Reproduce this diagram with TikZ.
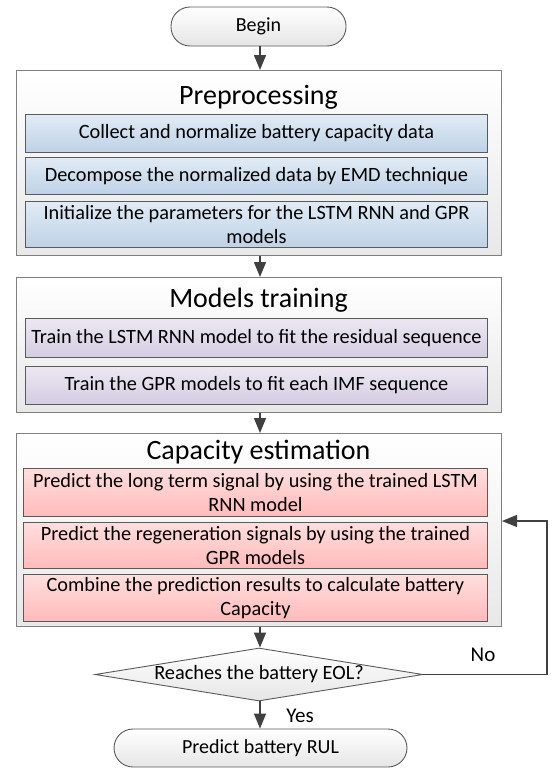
\documentclass[tikz,border=0pt]{standalone}
\usepackage{fontspec}
\setmainfont{Carlito}
\usetikzlibrary{arrows.meta,shapes.geometric}
\definecolor{arr}{HTML}{404040}
\definecolor{outerline}{HTML}{7F7F7F}
\definecolor{innerline}{HTML}{5A5A5A}
\tikzset{
  outerbox/.style={draw=outerline, line width=1pt, top color=white, bottom color=black!9, anchor=north west, inner sep=0pt},
  innerbox/.style={draw=innerline, line width=0.9pt, anchor=north west, inner sep=0pt, align=center, font=\fontsize{20.3}{24.5}\selectfont},
  bluebox/.style={innerbox, top color={rgb,255:red,225;green,235;blue,245}, bottom color={rgb,255:red,190;green,210;blue,230}},
  purplebox/.style={innerbox, top color={rgb,255:red,236;green,232;blue,242}, bottom color={rgb,255:red,212;green,204;blue,226}},
  redbox/.style={innerbox, top color={rgb,255:red,255;green,222;blue,222}, bottom color={rgb,255:red,255;green,186;blue,186}},
  titletext/.style={font=\fontsize{28}{32}\selectfont, inner sep=0pt},
  terminal/.style={draw=innerline, line width=0.9pt, rounded corners=19pt, top color=white, bottom color=black!10, inner sep=0pt, font=\fontsize{20}{24}\selectfont},
  decision/.style={diamond, aspect=6.2, draw=innerline, line width=0.9pt, top color=white, bottom color=black!10, inner sep=0pt, font=\fontsize{20.3}{24}\selectfont},
  flow/.style={draw=arr, line width=1.5pt, -{Triangle[length=15pt,width=12pt]}},
  loopflow/.style={draw=arr, line width=1.1pt, -{Triangle[length=15pt,width=12pt]}},
  lbl/.style={font=\fontsize{21}{24}\selectfont, inner sep=0pt}
}
\begin{document}
\begin{tikzpicture}[x=1pt,y=-1pt]
\useasboundingbox (0,0) rectangle (552,769);
% Begin
\node[terminal, minimum width=175pt, minimum height=39pt] (begin) at (258.5,26.5) {Begin};
% Preprocessing
\node[outerbox, minimum width=485pt, minimum height=185pt] (pre) at (16,70) {};
\node[titletext] (pret) at (258.5,97) {Preprocessing};
\node[bluebox, minimum width=462pt, minimum height=38pt] (p1) at (25,114) {Collect and normalize battery capacity data};
\node[bluebox, minimum width=462pt, minimum height=37pt] (p2) at (25,157) {Decompose the normalized data by EMD technique};
\node[bluebox, minimum width=462pt, minimum height=46pt] (p3) at (25,201) {Initialize the parameters for the LSTM RNN and GPR\\models};
% Models training
\node[outerbox, minimum width=485pt, minimum height=135pt] (mod) at (16,277) {};
\node[titletext] (modt) at (258.5,300) {Models training};
\node[purplebox, minimum width=462pt, minimum height=39pt] (m1) at (25,318) {Train the LSTM RNN model to fit the residual sequence};
\node[purplebox, minimum width=462pt, minimum height=38pt] (m2) at (25,366) {Train the GPR models to fit each IMF sequence};
% Capacity estimation
\node[outerbox, minimum width=485pt, minimum height=193pt] (cap) at (16,433) {};
\node[titletext] (capt) at (258.5,452) {Capacity estimation};
\node[redbox, minimum width=464pt, minimum height=48pt] (c1) at (23,468) {Predict the long term signal by using the trained LSTM\\RNN model};
\node[redbox, minimum width=464pt, minimum height=46pt] (c2) at (23,522) {Predict the regeneration signals by using the trained\\GPR models};
\node[redbox, minimum width=464pt, minimum height=47pt] (c3) at (23,574) {Combine the prediction results to calculate battery\\Capacity};
% Decision
\node[decision, minimum width=328pt, minimum height=53pt] (dec) at (259,674.5) {Reaches the battery EOL?};
% End
\node[terminal, minimum width=293pt, minimum height=38pt] (rul) at (260.5,748) {Predict battery RUL};
% Connectors
\draw[flow] (begin.south -| 260,0) -- (pre.north -| 260,0);
\draw[flow] (pre.south -| 260,0) -- (mod.north -| 260,0);
\draw[flow] (mod.south -| 260,0) -- (cap.north -| 260,0);
\draw[flow] (cap.south -| 260,0) -- (dec.north -| 260,0);
\draw[flow] (dec.south -| 260,0) -- (rul.north -| 260,0);
\coordinate (lp) at (547,521);
\draw[loopflow] (dec.east) -| (lp) -- (cap.east |- lp);
\node[lbl] (no) at (483,655) {No};
\node[lbl] (yes) at (300,716) {Yes};
\end{tikzpicture}
\end{document}
